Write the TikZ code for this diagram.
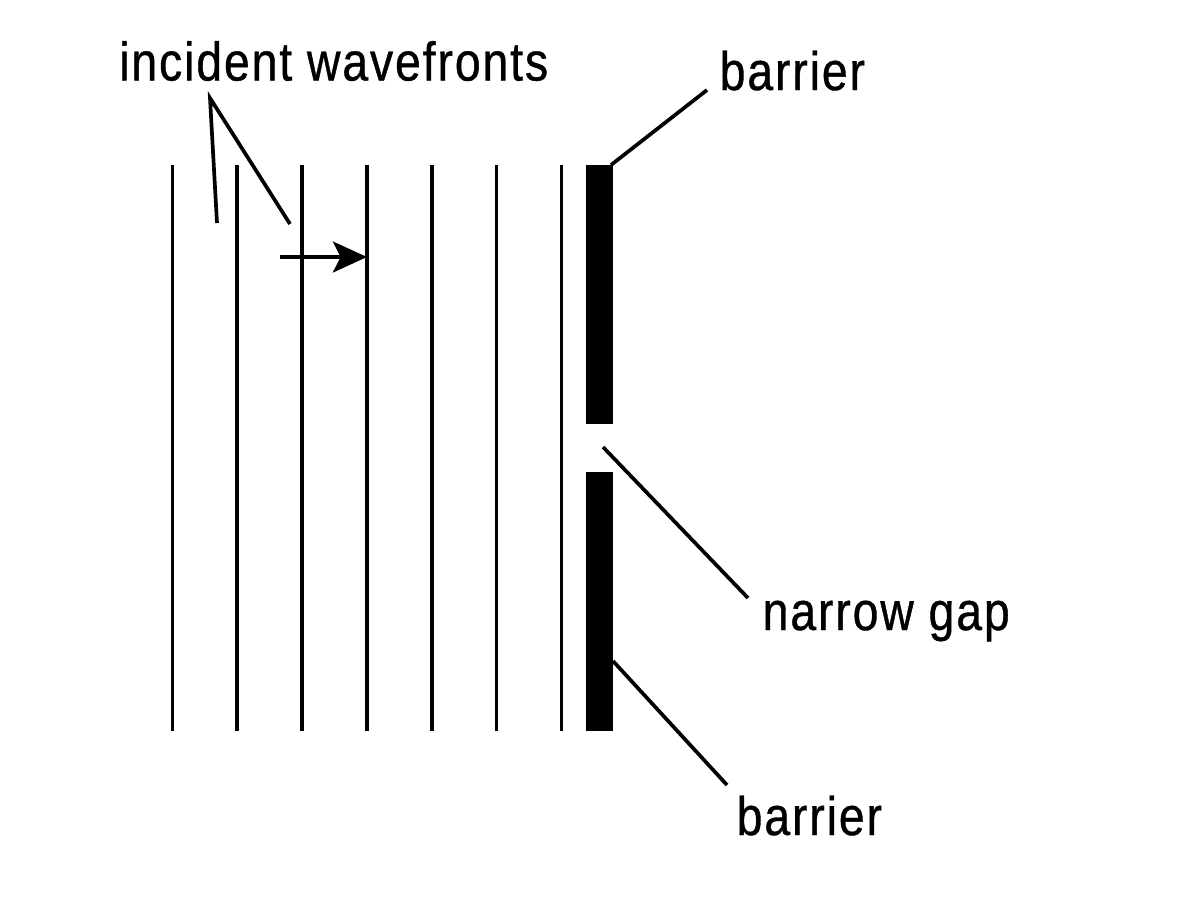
\documentclass[tikz,border=0pt]{standalone}
\usepackage{fontspec}
\setmainfont[FakeStretch=0.85,LetterSpace=3.5,FakeBold=0.7]{Liberation Sans}
\usetikzlibrary{arrows.meta}
\tikzset{
    label text/.style={inner sep=0pt,anchor=base west,font=\fontsize{15.5}{18}\selectfont},
    lead line/.style={line width=1.05pt},
    wave line/.style={line width=1.05pt},
    barrier block/.style={fill=black,draw=none,inner sep=0pt,minimum width=.27cm,minimum height=2.59cm}
}
\begin{document}
\begin{tikzpicture}[x=.01cm,y=-.01cm]
                \useasboundingbox (0,0) rectangle (1200,896);
                % wavefronts
                \foreach \x in {172.5,237.3,302.1,367,431.8,496.6,561.5}
                    \draw[wave line] (\x,165)--(\x,731);

                % barrier
                \node[barrier block] (bartop) at (599.5,294.5) {};
                \node[barrier block] (barbot) at (599.5,601.5) {};
                \coordinate (topcorner) at (611,165);
                \coordinate (gappoint) at (603,447);
                \coordinate (botedge) at (613,661);

                % labels
                \node[label text] (incident) at (118.5,80.5) {incident wavefronts};
                \node[label text] (toplabel) at (719,90) {barrier};
                \node[label text] (gaplabel) at (762,630) {narrow gap};
                \node[label text] (botlabel) at (736,835) {barrier};

                % leaders
                \coordinate (apex) at (210,98);
                \coordinate (leadone) at (217,223);
                \coordinate (leadtwo) at (290,224);
                \coordinate (toplead) at (707,90);
                \coordinate (gaplead) at (748,598);
                \coordinate (botlead) at (727,785);
                \draw[lead line] (leadone)--(apex)--(leadtwo);
                \draw[lead line] (topcorner)--(toplead);
                \draw[lead line] (gappoint)--(gaplead);
                \draw[lead line] (botedge)--(botlead);

                % arrow
                \coordinate (arrowstart) at (280,257);
                \coordinate (arrowend) at (367,257);
                \draw[lead line,-{Stealth[length=9.7pt,width=8.8pt,inset=2.2pt]}] (arrowstart)--(arrowend);
\end{tikzpicture}
\end{document}
